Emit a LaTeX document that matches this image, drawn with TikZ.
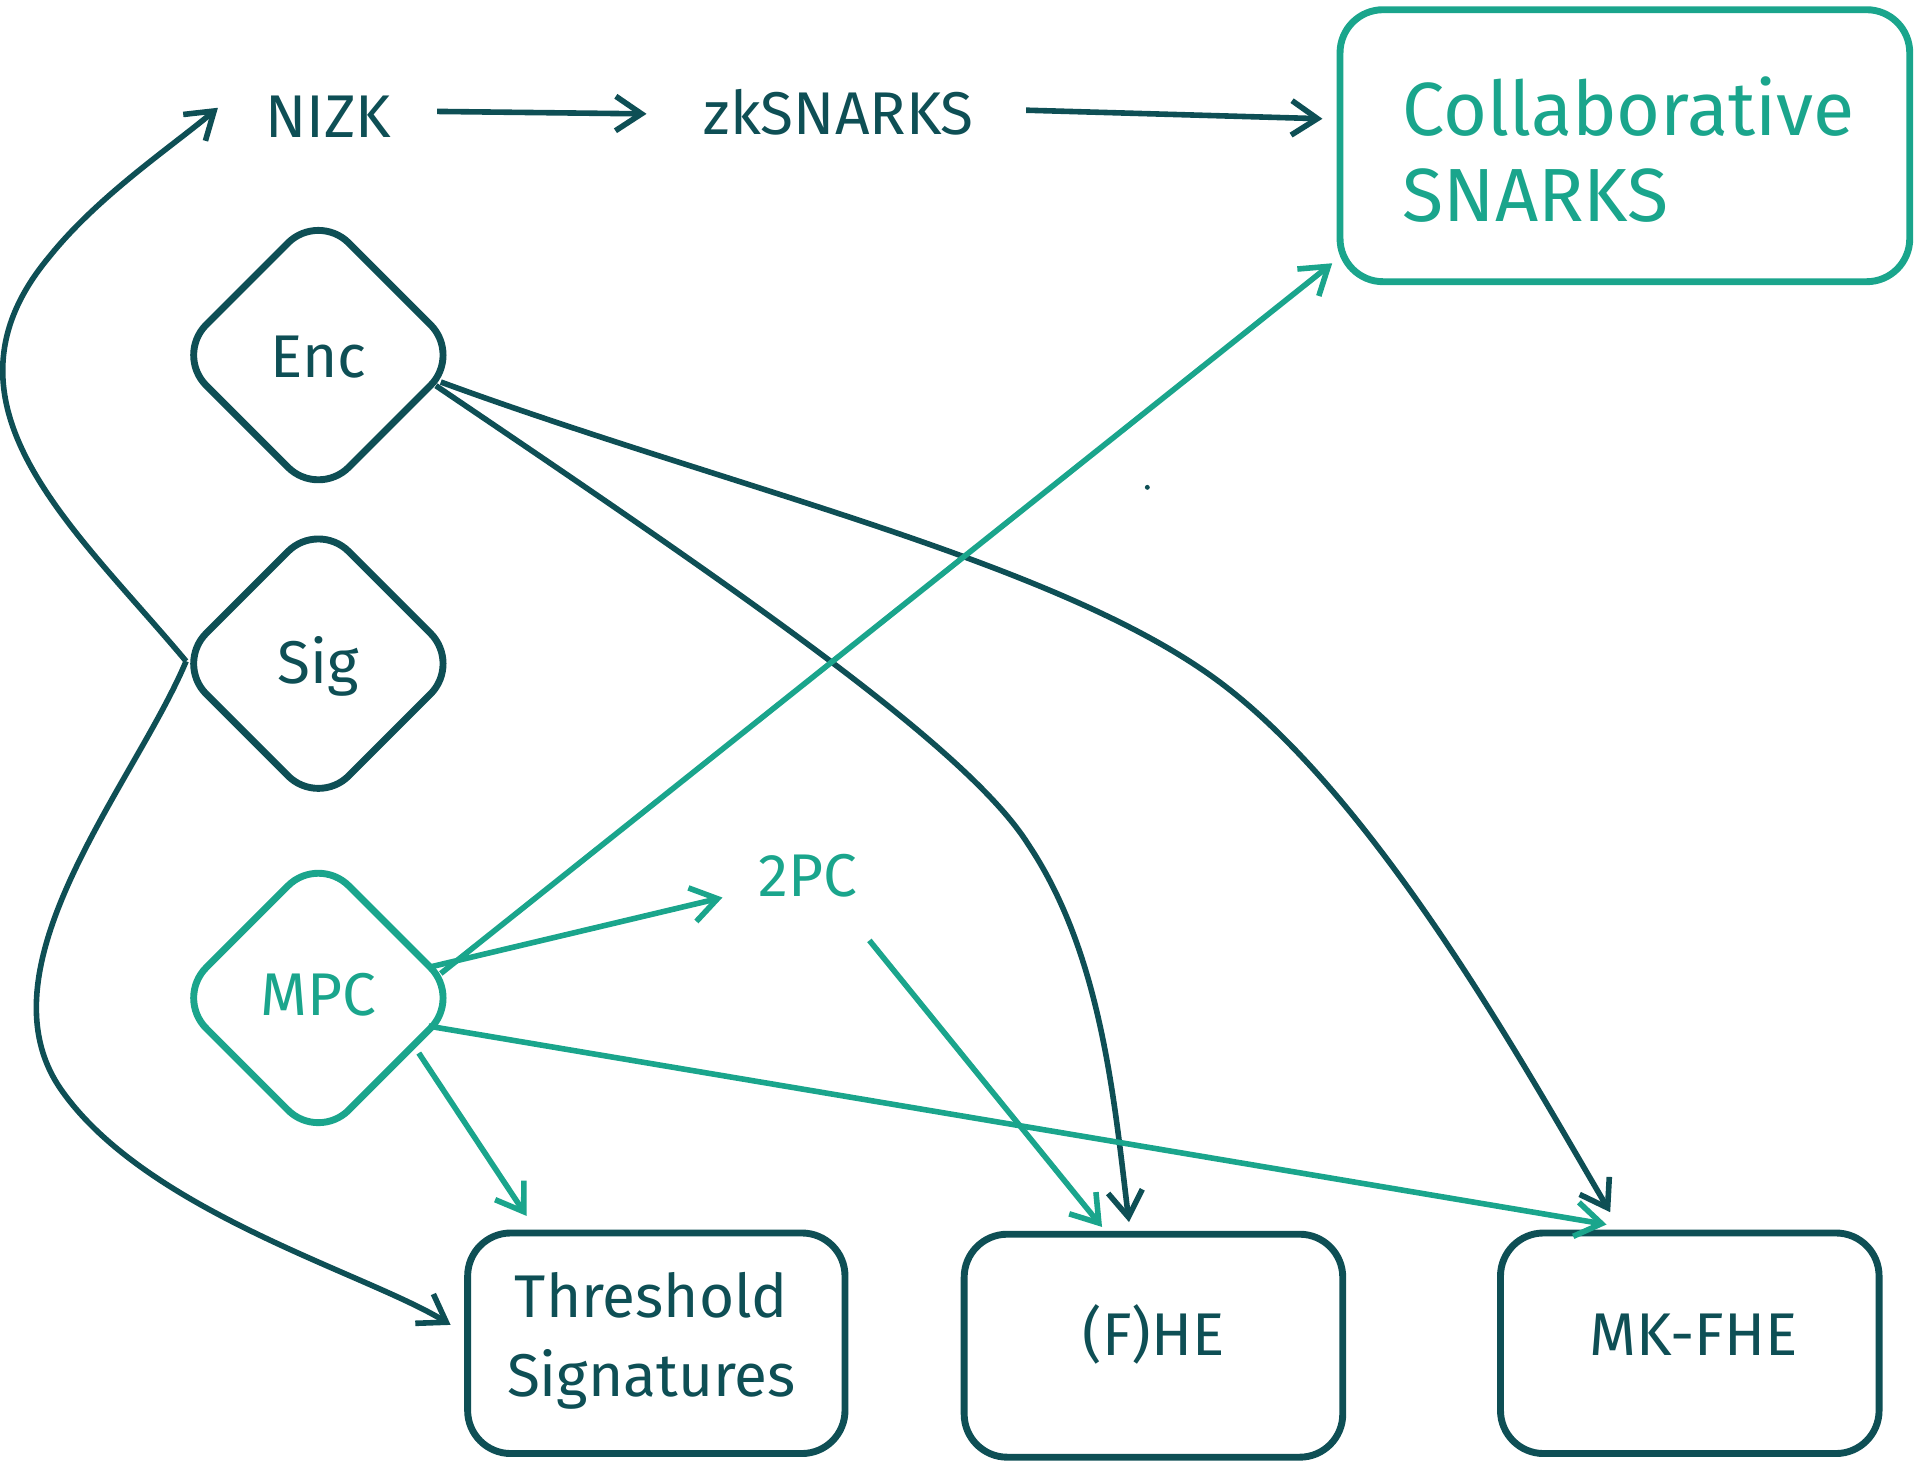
\documentclass[tikz,border=0pt]{standalone}
\usepackage{fontspec}
\setmainfont{Fira Sans}
\usetikzlibrary{shapes.geometric,arrows.meta}
\definecolor{dk}{HTML}{0E4F55}
\definecolor{tl}{HTML}{1AA58C}
\begin{document}
\begin{tikzpicture}[x=0.01cm,y=-0.01cm,
  box/.style={draw=dk,line width=1.6pt,rounded corners=10pt,inner sep=0pt,fill=white},
  dia/.style={draw=dk,line width=1.6pt,diamond,rounded corners=10pt,minimum width=2.35cm,minimum height=2.35cm,inner sep=0pt},
  lab/.style={font=\fontsize{14}{18}\selectfont,text=dk},
  ar/.style={draw=dk,line width=1.3pt,-{Straight Barb[length=6pt,width=8pt]}},
  art/.style={draw=tl,line width=1.3pt,-{Straight Barb[length=6pt,width=8pt]}}]
\useasboundingbox (0,0) rectangle (1568,1197);
\node[box,draw=tl,minimum width=4.65cm,minimum height=2.22cm] (col) at (1327,119) {};
\node[lab,text=tl,align=left,font=\fontsize{17.5}{20}\selectfont] at (1330,122) {Collaborative\\SNARKS};
\node[lab] (nizk) at (268,95) {NIZK};
\node[lab] (zk) at (685,92) {zkSNARKS};
\node[dia] (enc) at (260,290) {};
\node[lab] at (260,292) {Enc};
\node[dia] (sig) at (260,542) {};
\node[lab] at (260,544) {Sig};
\node[dia,draw=tl] (mpc) at (260,815) {};
\node[lab,text=tl] at (260,812) {MPC};
\node[lab,text=tl] (tpc) at (660,715) {2PC};
\node[box,minimum width=3.08cm,minimum height=1.8cm] (th) at (536,1097) {};
\node[lab,align=center,font=\fontsize{14}{18.5}\selectfont] at (532,1095) {Threshold\\Signatures};
\node[box,minimum width=3.09cm,minimum height=1.82cm] (he) at (942,1099) {};
\node[lab] at (942,1090) {(F)HE};
\node[box,minimum width=3.09cm,minimum height=1.8cm] (mk) at (1380,1097) {};
\node[lab] at (1383,1090) {MK-FHE};
\fill[dk] (937,398) circle (2);
\coordinate (s) at (152,540);
\draw[ar] (357,91) -- (528,93);
\draw[ar] (838,90) -- (1080,97);
\draw[ar] (s) .. controls (60,430) and (-60,330) .. (40,210) .. controls (80,160) and (140,120) .. (178,88);
\draw[ar] (s) .. controls (110,640) and (-20,790) .. (50,890) .. controls (120,990) and (300,1040) .. (368,1082);
\draw[ar] (356,315) .. controls (600,480) and (790,610) .. (840,690) .. controls (900,780) and (910,900) .. (922,998);
\draw[ar] (360,312) .. controls (600,400) and (870,460) .. (1000,560) .. controls (1130,660) and (1250,880) .. (1315,990);
\draw[art] (360,795) -- (1088,215);
\draw[art] (350,790) -- (590,733);
\draw[art] (350,838) -- (1312,1000);
\draw[art] (342,860) -- (430,993);
\draw[art] (710,768) -- (900,1002);
\end{tikzpicture}
\end{document}
